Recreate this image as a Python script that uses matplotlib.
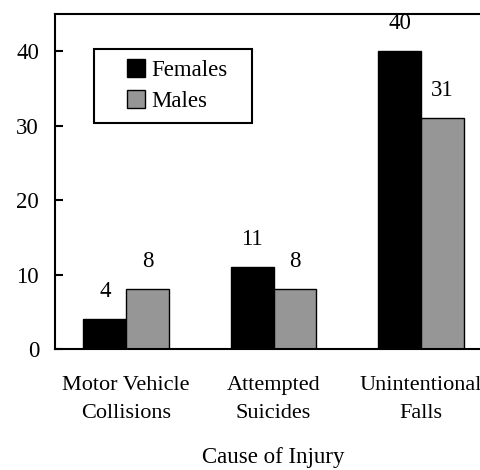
import numpy as np
import matplotlib
matplotlib.use("Agg")
import matplotlib.pyplot as plt
from matplotlib.patches import Rectangle

# Datos del grafico
causes = ["Motor Vehicle\nCollisions", "Attempted\nSuicides", "Unintentional\nFalls"]
females = [4, 11, 40]
males = [8, 8, 31]
yticks = [0, 10, 20, 30, 40]

plt.rcParams['font.family'] = ['Liberation Serif', 'DejaVu Serif']

fig = plt.figure(figsize=(4.81, 4.70), dpi=100)
# la caja del grafico se sale por la derecha como en la imagen original
ax = fig.add_axes([55 / 481, 121 / 470, 437 / 481, 335 / 470])

x = np.arange(len(causes))
w = 0.29
b1 = ax.bar(x - w / 2, females, w, color='black', edgecolor='black', linewidth=1, label='Females')
b2 = ax.bar(x + w / 2, males, w, color='#969696', edgecolor='black', linewidth=1, label='Males')

# etiquetas de valores
for bars in (b1, b2):
    for r in bars:
        ax.annotate(str(int(r.get_height())), (r.get_x() + r.get_width() / 2, r.get_height()),
                    xytext=(0, 12.5), textcoords='offset points', ha='center', va='bottom', fontsize=16.5)

ax.set_xlim(-0.483, 2.483)
ax.set_ylim(0, 45)
ax.set_yticks(yticks)
ax.set_xticks(x)
ax.set_xticklabels(causes, fontsize=16, linespacing=1.65)
ax.tick_params(axis='x', length=0, pad=19.5)
ax.tick_params(axis='y', direction='in', length=6, width=1.5, labelsize=16.5, pad=11.5)
for s in ax.spines.values():
    s.set_linewidth(1.5)
ax.set_xlabel('Cause of Injury', fontsize=16.5, labelpad=17)

# leyenda sin marco; el marco se dibuja aparte para darle el ancho del original
leg = ax.legend(loc='upper left', bbox_to_anchor=(0.165, 0.866), fontsize=16.5, frameon=False,
                handlelength=0.8, handleheight=0.82, handletextpad=0.25, borderpad=0,
                labelspacing=0.4, borderaxespad=0)
ax.add_patch(Rectangle((0.0892, 0.6746), 0.3618, 0.2209, transform=ax.transAxes,
                       fill=False, edgecolor='black', linewidth=1.5, zorder=5))

fig.savefig('out.png', dpi=100)
